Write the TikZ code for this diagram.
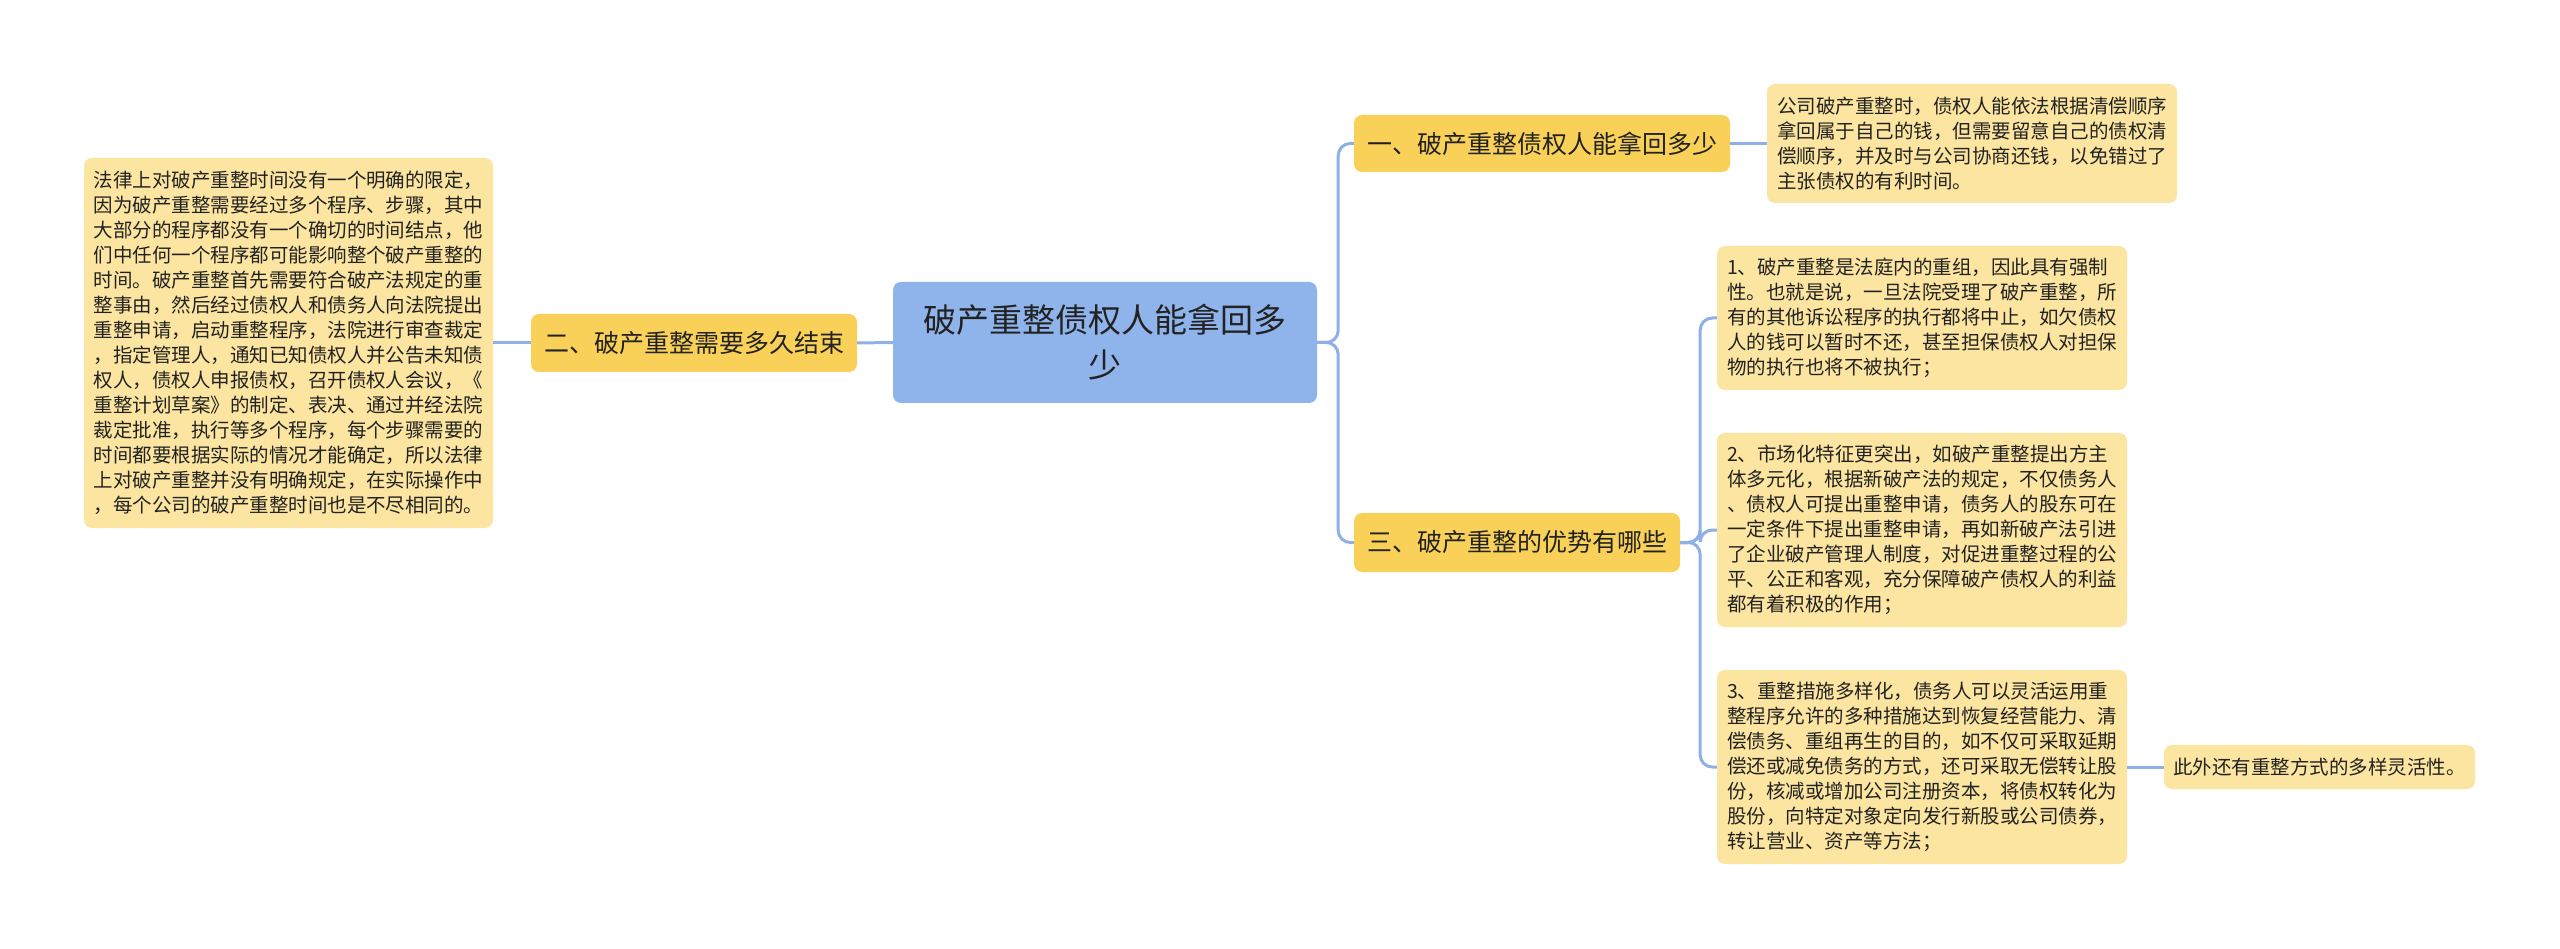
\documentclass[tikz,border=0pt]{standalone}
\usepackage{fontspec}
\newfontfamily\cjk{Noto Sans CJK SC}
\definecolor{rootfill}{HTML}{8FB3EB}
\definecolor{branchfill}{HTML}{FAD158}
\definecolor{leaffill}{HTML}{FCE5A0}
\definecolor{linkcol}{HTML}{8FB0E6}
\definecolor{txt}{HTML}{222222}
\tikzset{
  rootbox/.style={fill=rootfill, rounded corners=8pt, inner sep=0pt, align=center, text=txt,
    font=\cjk\fontsize{33}{45}\selectfont},
  branchbox/.style={fill=branchfill, rounded corners=8pt, inner sep=0pt, align=center, text=txt,
    font=\cjk\fontsize{25}{30}\selectfont},
  leafbox/.style={fill=leaffill, rounded corners=8pt, inner sep=0pt, align=left, text=txt,
    font=\cjk\fontsize{19.5}{25}\selectfont},
  link/.style={draw=linkcol, line width=3pt, rounded corners=12pt},
}
\begin{document}
\begin{tikzpicture}[x=1pt, y=-1pt]
\useasboundingbox[fill=white] (0,0) rectangle (2560,949);
% root
\node[rootbox, minimum width=424pt, minimum height=121pt] (root) at (1105,342.5)
  {破产重整债权人能拿回多\\少};
% branches
\node[branchbox, minimum width=326pt, minimum height=58pt] (b2) at (694,343) {二、破产重整需要多久结束};
\node[branchbox, minimum width=376pt, minimum height=57pt] (b1) at (1542,143.5) {一、破产重整债权人能拿回多少};
\node[branchbox, minimum width=326pt, minimum height=59pt] (b3) at (1517,542.5) {三、破产重整的优势有哪些};
% leaves
\node[leafbox, minimum width=409pt, minimum height=370pt] (t2) at (288.5,343)
  {法律上对破产重整时间没有一个明确的限定，\\
   因为破产重整需要经过多个程序、步骤，其中\\
   大部分的程序都没有一个确切的时间结点，他\\
   们中任何一个程序都可能影响整个破产重整的\\
   时间。破产重整首先需要符合破产法规定的重\\
   整事由，然后经过债权人和债务人向法院提出\\
   重整申请，启动重整程序，法院进行审查裁定\\
   ，指定管理人，通知已知债权人并公告未知债\\
   权人，债权人申报债权，召开债权人会议，《\\
   重整计划草案》的制定、表决、通过并经法院\\
   裁定批准，执行等多个程序，每个步骤需要的\\
   时间都要根据实际的情况才能确定，所以法律\\
   上对破产重整并没有明确规定，在实际操作中\\
   ，每个公司的破产重整时间也是不尽相同的。};
\node[leafbox, minimum width=410pt, minimum height=119pt] (t1) at (1972,143.5)
  {公司破产重整时，债权人能依法根据清偿顺序\\
   拿回属于自己的钱，但需要留意自己的债权清\\
   偿顺序，并及时与公司协商还钱，以免错过了\\
   主张债权的有利时间。};
\node[leafbox, minimum width=410pt, minimum height=144pt] (i1) at (1922,318)
  {1、破产重整是法庭内的重组，因此具有强制\\
   性。也就是说，一旦法院受理了破产重整，所\\
   有的其他诉讼程序的执行都将中止，如欠债权\\
   人的钱可以暂时不还，甚至担保债权人对担保\\
   物的执行也将不被执行；};
\node[leafbox, minimum width=410pt, minimum height=194pt] (i2) at (1922,530)
  {2、市场化特征更突出，如破产重整提出方主\\
   体多元化，根据新破产法的规定，不仅债务人\\
   、债权人可提出重整申请，债务人的股东可在\\
   一定条件下提出重整申请，再如新破产法引进\\
   了企业破产管理人制度，对促进重整过程的公\\
   平、公正和客观，充分保障破产债权人的利益\\
   都有着积极的作用；};
\node[leafbox, minimum width=410pt, minimum height=194pt] (i3) at (1922,767)
  {3、重整措施多样化，债务人可以灵活运用重\\
   整程序允许的多种措施达到恢复经营能力、清\\
   偿债务、重组再生的目的，如不仅可采取延期\\
   偿还或减免债务的方式，还可采取无偿转让股\\
   份，核减或增加公司注册资本，将债权转化为\\
   股份，向特定对象定向发行新股或公司债券，\\
   转让营业、资产等方法；};
\node[leafbox, minimum width=311pt, minimum height=44pt] (ex) at (2319.5,767)
  {此外还有重整方式的多样灵活性。};
% connectors
\draw[link] (root.east) -- ++(21,0) |- (b1.west);
\draw[link] (root.east) -- ++(21,0) |- (b3.west);
\draw[link] (root.west) -- (b2.east);
\draw[link] (b2.west) -- (t2.east);
\draw[link] (b1.east) -- (t1.west);
\draw[link] (b3.east) -- ++(20,0) |- (i1.west);
\draw[link] (b3.east) -- ++(20,0) |- (i2.west);
\draw[link] (b3.east) -- ++(20,0) |- (i3.west);
\draw[link] (i3.east) -- (ex.west);
\end{tikzpicture}
\end{document}
